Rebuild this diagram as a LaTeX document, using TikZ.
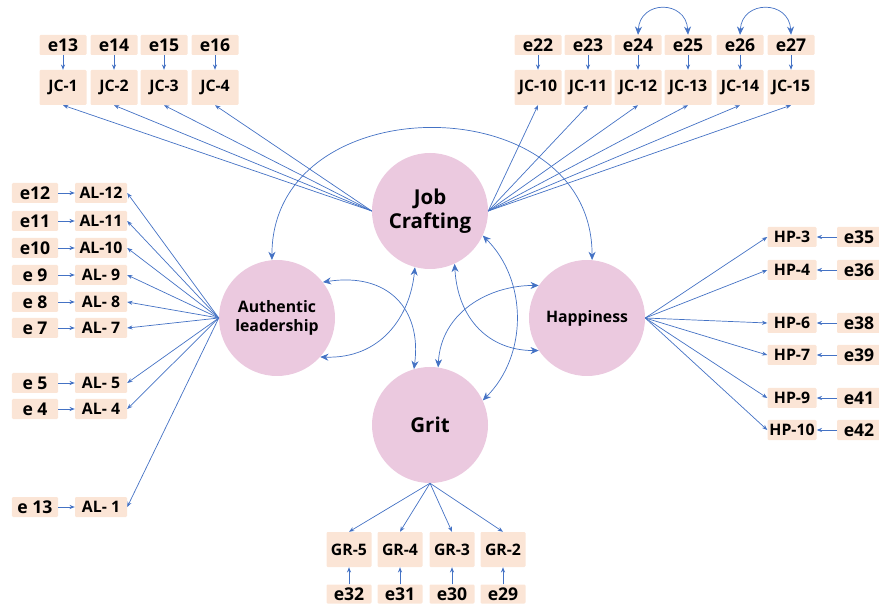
\documentclass[tikz,border=0pt]{standalone}
\usepackage{fontspec}
\setmainfont{Open Sans}
\usepackage{tikz}
\usetikzlibrary{arrows.meta, positioning}
\definecolor{pathblue}{RGB}{68, 114, 196}
\definecolor{boxpeach}{RGB}{251, 229, 214}
\definecolor{latpink}{RGB}{235, 201, 223}

\begin{document}
\begin{tikzpicture}[x=0.3mm, y=-0.3mm, font=\bfseries,
  latent/.style={circle, fill=latpink, minimum size=34.8mm, inner sep=0pt, align=center},
  ind/.style={fill=boxpeach, rounded corners=1pt, minimum width=14.1mm, minimum height=10.5mm, inner sep=1pt, font=\fontsize{13.5}{16}\selectfont\bfseries},
  err/.style={fill=boxpeach, rounded corners=1pt, minimum width=14.1mm, minimum height=6mm, inner sep=1pt, font=\fontsize{15}{17}\selectfont\bfseries},
  load/.style={-{Stealth[length=4.5pt, width=3.5pt]}, pathblue, line width=0.6pt},
  cov/.style={{Stealth[length=7pt, width=6pt]}-{Stealth[length=7pt, width=6pt]}, pathblue, line width=0.6pt}]
  \useasboundingbox (0,0) rectangle (879,605);

  % Latent variables
  \node[latent, font=\fontsize{17.5}{20.5}\selectfont\bfseries] (jcraft) at (430,211) {Job\\Crafting};
  \node[latent, font=\fontsize{13.5}{16}\selectfont\bfseries] (auth) at (277,318) {Authentic\\leadership};
  \node[latent, font=\fontsize{13.5}{16}\selectfont\bfseries] (happy) at (587,318) {Happiness};
  \node[latent, font=\fontsize{17.5}{20.5}\selectfont\bfseries] (grit) at (430,425) {Grit};

  % Job crafting items
  \foreach \v/\e/\x in {1/13/63, 2/14/114, 3/15/164, 4/16/215}{
    \node[ind] (jc\v) at (\x,87.5) {JC-\v};
    \node[err] (e\e) at (\x,45) {e\e};
    \draw[load] (e\e) -- (jc\v);
    \draw[load] (jcraft.west) -- (jc\v.south);
  }
  \foreach \v/\e/\x in {10/22/538, 11/23/588, 12/24/638, 13/25/688, 14/26/740, 15/27/791}{
    \node[ind] (jc\v) at (\x,87.5) {JC-\v};
    \node[err] (e\e) at (\x,45) {e\e};
    \draw[load] (e\e) -- (jc\v);
    \draw[load] (jcraft.east) -- (jc\v.south);
  }
  \draw[cov] (e24.north) .. controls +(2,-35) and +(-2,-35) .. (e25.north);
  \draw[cov] (e26.north) .. controls +(2,-35) and +(-2,-35) .. (e27.north);

  % Authentic leadership items
  \foreach \v/\t/\s/\y in {12/AL-12/e12/193, 11/AL-11/e11/221, 10/AL-10/e10/248,
      9/AL- 9/e 9/275, 8/AL- 8/e 8/302, 7/AL- 7/e 7/328, 5/AL- 5/e 5/383,
      4/AL- 4/e 4/409, 1/AL- 1/e 13/507}{
    \node[ind, minimum width=15.6mm, minimum height=6mm] (al\v) at (101,\y) {\t};
    \node[err, minimum width=13.8mm] (ea\v) at (35,\y) {\s};
    \draw[load] (ea\v) -- (al\v);
    \draw[load] (auth.west) -- (al\v.east);
  }

  % Happiness items
  \foreach \v/\e/\y in {3/35/237, 4/36/270, 6/38/323, 7/39/355, 9/41/398, 10/42/430}{
    \node[ind, minimum width=14.7mm, minimum height=6mm] (hp\v) at (792,\y) {HP-\v};
    \node[err, minimum width=13.2mm] (e\e) at (859,\y) {e\e};
    \draw[load] (e\e) -- (hp\v);
    \draw[load] (happy.east) -- (hp\v.west);
  }

  % Grit items
  \foreach \v/\e/\x in {5/32/349, 4/31/400, 3/30/452, 2/29/503}{
    \node[ind, minimum width=13.5mm] (gr\v) at (\x,549.5) {GR-\v};
    \node[err, minimum width=13.5mm, minimum height=5.7mm] (e\e) at (\x,594) {e\e};
    \draw[load] (e\e) -- (gr\v);
    \draw[load] (grit.south) -- (gr\v.north);
  }

  % Covariances
  \draw[cov] (auth.95) .. controls +(0,-175) and +(0,-175) .. (happy.85);
  \draw[cov] (auth.38) .. controls +(65,-10) and +(8,-60) .. (grit.106);
  \draw[cov] (auth.-42) .. controls +(60,2) and +(-5,50) .. (jcraft.-105);
  \draw[cov] (jcraft.-65) .. controls +(3,55) and +(-50,0) .. (happy.214);
  \draw[cov] (grit.82) .. controls +(3,-55) and +(-50,0) .. (happy.146);
  \draw[cov] (jcraft.-25) .. controls +(45,45) and +(45,-45) .. (grit.25);
\end{tikzpicture}
\end{document}
